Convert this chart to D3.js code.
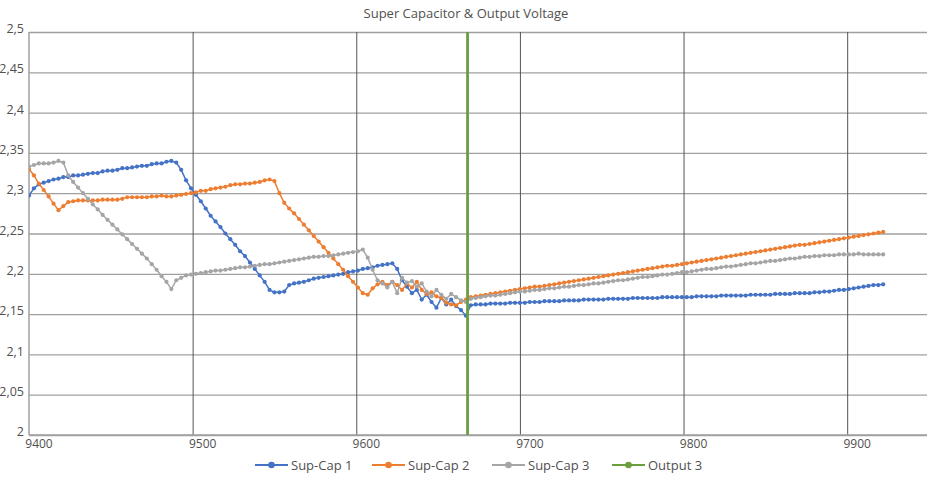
<!DOCTYPE html>
<html><head><meta charset="utf-8">
<script src="https://cdn.jsdelivr.net/npm/d3@7"></script>
<style>body{margin:0;background:#fff}svg{display:block;font-family:"Open Sans",sans-serif}</style>
</head><body><svg id="chart" width="927" height="477"></svg>
<script>
const title = "Super Capacitor & Output Voltage";
const xValues = [9400,9403,9406,9409,9412,9415,9418,9421,9424,9427,9430,9433,9436,9439,9442,9445,9448,9451,9454,9457,
9460,9463,9466,9469,9472,9475,9478,9481,9484,9487,9490,9493,9496,9499,9502,9505,9508,9511,9514,9517,
9520,9523,9526,9529,9532,9535,9538,9541,9544,9547,9550,9553,9556,9559,9562,9565,9568,9571,9574,9577,
9580,9583,9586,9589,9592,9595,9598,9601,9604,9607,9610,9613,9616,9619,9622,9625,9628,9631,9634,9637,
9640,9643,9646,9649,9652,9655,9658,9661,9664,9667,9670,9673,9676,9679,9682,9685,9688,9691,9694,9697,
9700,9703,9706,9709,9712,9715,9718,9721,9724,9727,9730,9733,9736,9739,9742,9745,9748,9751,9754,9757,
9760,9763,9766,9769,9772,9775,9778,9781,9784,9787,9790,9793,9796,9799,9802,9805,9808,9811,9814,9817,
9820,9823,9826,9829,9832,9835,9838,9841,9844,9847,9850,9853,9856,9859,9862,9865,9868,9871,9874,9877,
9880,9883,9886,9889,9892,9895,9898,9901,9904,9907,9910,9913,9916,9919,9922];
const supCap1 = [2.297,2.306,2.311,2.313,2.315,2.317,2.318,2.320,2.320,2.322,
2.322,2.323,2.324,2.325,2.325,2.327,2.328,2.328,2.329,2.331,
2.331,2.332,2.333,2.334,2.334,2.336,2.337,2.337,2.339,2.340,
2.338,2.329,2.316,2.306,2.298,2.290,2.281,2.272,2.265,2.258,
2.250,2.243,2.236,2.228,2.222,2.214,2.206,2.198,2.190,2.180,
2.177,2.177,2.178,2.186,2.188,2.189,2.190,2.192,2.194,2.195,
2.196,2.197,2.198,2.199,2.200,2.202,2.203,2.204,2.206,2.207,
2.208,2.210,2.211,2.212,2.213,2.206,2.192,2.184,2.176,2.180,
2.168,2.174,2.165,2.158,2.170,2.162,2.168,2.160,2.155,2.148,
2.161,2.162,2.162,2.162,2.163,2.163,2.163,2.163,2.164,2.164,
2.164,2.164,2.165,2.165,2.165,2.166,2.166,2.166,2.166,2.167,
2.167,2.167,2.167,2.168,2.168,2.168,2.168,2.168,2.169,2.169,
2.169,2.169,2.169,2.170,2.170,2.170,2.170,2.170,2.170,2.171,
2.171,2.171,2.171,2.171,2.171,2.171,2.172,2.172,2.172,2.172,
2.172,2.173,2.173,2.173,2.173,2.173,2.173,2.174,2.174,2.174,
2.174,2.174,2.175,2.175,2.175,2.175,2.176,2.176,2.176,2.176,
2.177,2.177,2.178,2.178,2.179,2.180,2.180,2.181,2.182,2.183,
2.184,2.185,2.186,2.186,2.187];
const supCap2 = [2.330,2.322,2.312,2.304,2.296,2.287,2.279,2.284,2.289,2.290,
2.291,2.291,2.291,2.291,2.291,2.292,2.292,2.292,2.292,2.293,
2.295,2.295,2.295,2.295,2.295,2.296,2.296,2.297,2.296,2.296,
2.297,2.298,2.299,2.300,2.301,2.303,2.303,2.305,2.306,2.307,
2.308,2.310,2.311,2.311,2.312,2.312,2.313,2.314,2.316,2.317,
2.315,2.300,2.288,2.281,2.275,2.268,2.261,2.254,2.247,2.240,
2.233,2.226,2.219,2.212,2.205,2.197,2.190,2.183,2.176,2.174,
2.182,2.187,2.190,2.186,2.190,2.186,2.180,2.188,2.183,2.190,
2.180,2.175,2.177,2.172,2.170,2.164,2.162,2.161,2.165,2.168,
2.171,2.172,2.173,2.174,2.175,2.176,2.177,2.178,2.179,2.180,
2.181,2.182,2.183,2.184,2.184,2.185,2.186,2.187,2.188,2.189,
2.190,2.191,2.192,2.193,2.194,2.195,2.196,2.197,2.198,2.199,
2.200,2.201,2.202,2.203,2.204,2.205,2.206,2.207,2.208,2.209,
2.210,2.210,2.211,2.212,2.213,2.214,2.215,2.216,2.217,2.218,
2.219,2.220,2.221,2.222,2.223,2.224,2.225,2.226,2.227,2.228,
2.229,2.230,2.231,2.232,2.233,2.234,2.235,2.236,2.236,2.237,
2.238,2.239,2.240,2.241,2.242,2.243,2.244,2.245,2.246,2.247,
2.248,2.249,2.250,2.251,2.252];
const supCap3 = [2.333,2.335,2.337,2.337,2.337,2.338,2.340,2.338,2.322,2.314,
2.307,2.300,2.293,2.286,2.280,2.273,2.267,2.261,2.255,2.249,
2.243,2.237,2.231,2.225,2.219,2.212,2.205,2.197,2.190,2.181,
2.192,2.195,2.198,2.199,2.200,2.201,2.202,2.203,2.204,2.204,
2.205,2.206,2.207,2.208,2.208,2.209,2.210,2.211,2.212,2.212,
2.213,2.214,2.215,2.216,2.217,2.218,2.219,2.220,2.221,2.221,
2.222,2.222,2.223,2.224,2.225,2.226,2.227,2.228,2.230,2.220,
2.205,2.192,2.188,2.183,2.190,2.176,2.195,2.189,2.191,2.184,
2.188,2.178,2.172,2.180,2.174,2.169,2.175,2.171,2.167,2.165,
2.169,2.170,2.171,2.172,2.173,2.173,2.174,2.175,2.176,2.177,
2.178,2.178,2.179,2.180,2.180,2.181,2.182,2.182,2.183,2.184,
2.184,2.185,2.186,2.186,2.187,2.188,2.188,2.189,2.190,2.191,
2.192,2.192,2.193,2.194,2.195,2.196,2.196,2.197,2.198,2.199,
2.199,2.200,2.201,2.202,2.202,2.203,2.204,2.205,2.206,2.206,
2.207,2.208,2.209,2.209,2.210,2.211,2.212,2.213,2.213,2.214,
2.215,2.216,2.216,2.217,2.218,2.219,2.219,2.220,2.221,2.221,
2.222,2.222,2.223,2.223,2.223,2.224,2.224,2.224,2.224,2.225,
2.224,2.224,2.224,2.224,2.224];
const outputX = [9668, 9668];
const output3 = [1.9, 2.6];
const xTicks = [9400,9500,9600,9700,9800,9900];
const yTicks = [2,2.05,2.1,2.15,2.2,2.25,2.3,2.35,2.4,2.45,2.5];
const seriesNames = ["Sup-Cap 1","Sup-Cap 2","Sup-Cap 3","Output 3"];
const seriesColors = ["#4472C4","#ED7D31","#A5A5A5","#6A9E3F"];

const svg = d3.select("#chart");
const pL = 29, pR = 929, pT = 32, pB = 435;
const x = d3.scaleLinear().domain([9400, 9950]).range([pL, pR]);
const y = d3.scaleLinear().domain([2, 2.5]).range([pB, pT]);
const fmt = d => String(+(+d).toFixed(2)).replace(".", ",");
const textCol = "#505050";

// horizontal gridlines
const gy = svg.append("g").attr("transform", `translate(${pL},0)`)
  .call(d3.axisLeft(y).tickValues(yTicks).tickSize(-(pR-pL)).tickFormat(""));
gy.select(".domain").remove();
gy.selectAll("line").attr("stroke", "#a0a0a0").attr("stroke-width", 1.3);
// vertical gridlines
const gx = svg.append("g").attr("transform", `translate(0,${pT})`)
  .call(d3.axisTop(x).tickValues(xTicks.slice(1)).tickSize(-(pB-pT)).tickFormat(""));
gx.select(".domain").remove();
gx.selectAll("line").attr("stroke", "#555").attr("stroke-width", 1);
// axes lines
svg.append("line").attr("x1", pL).attr("x2", pL).attr("y1", pT).attr("y2", pB).attr("stroke", "#a0a0a0").attr("stroke-width", 1.5);
svg.append("line").attr("x1", pL).attr("x2", 927).attr("y1", pB).attr("y2", pB).attr("stroke", "#a0a0a0").attr("stroke-width", 1.5);

// y labels
const ya = svg.append("g").attr("transform", `translate(${pL},0)`)
  .call(d3.axisLeft(y).tickValues(yTicks).tickSize(0).tickPadding(5).tickFormat(fmt));
ya.select(".domain").remove();
ya.selectAll("text").attr("fill", textCol).style("font-size", "12.5px").attr("dy", "0.05em")
  .style("font-family", "'Open Sans',sans-serif");
// x labels
const xa = svg.append("g").attr("transform", `translate(0,${pB})`)
  .call(d3.axisBottom(x).tickValues(xTicks).tickSize(0).tickPadding(4).tickFormat(d3.format("d")));
xa.select(".domain").remove();
xa.selectAll("text").attr("fill", textCol).style("font-size", "12px").attr("dx", 9.5)
  .style("font-family", "'Open Sans',sans-serif");

// title
svg.append("text").attr("x", 466).attr("y", 18).attr("text-anchor", "middle")
  .attr("fill", textCol).style("font-size", "13px").text(title);

// clip
svg.append("clipPath").attr("id", "plotclip").append("rect")
  .attr("x", pL).attr("y", pT).attr("width", 927-pL).attr("height", pB-pT);
const plot = svg.append("g").attr("clip-path", "url(#plotclip)");

const seriesData = [
  xValues.map((v,i) => [v, supCap1[i]]),
  xValues.map((v,i) => [v, supCap2[i]]),
  xValues.map((v,i) => [v, supCap3[i]]),
  outputX.map((v,i) => [v, output3[i]])
];
const line = d3.line().x(d => x(d[0])).y(d => y(d[1]));
seriesData.forEach((data, s) => {
  const g = plot.append("g");
  g.append("path").datum(data).attr("d", line).attr("fill", "none")
    .attr("stroke", seriesColors[s]).attr("stroke-width", s === 3 ? 2.8 : 1.5);
  g.selectAll("circle").data(data).join("circle")
    .attr("cx", d => x(d[0])).attr("cy", d => y(d[1])).attr("r", 2.1)
    .attr("fill", seriesColors[s]);
});

// legend
const legendX = [255, 372, 492, 612];
const lg = svg.append("g");
seriesNames.forEach((name, i) => {
  const g = lg.append("g").attr("transform", `translate(${legendX[i]},465)`);
  g.append("line").attr("x1", 0).attr("x2", 33).attr("y1", 0).attr("y2", 0)
    .attr("stroke", seriesColors[i]).attr("stroke-width", 1.8);
  g.append("circle").attr("cx", 16.5).attr("cy", 0).attr("r", 3.3).attr("fill", seriesColors[i]);
  g.append("text").attr("x", 36).attr("y", 4.5).attr("fill", textCol)
    .style("font-size", "13px").text(name);
});
</script></body></html>
